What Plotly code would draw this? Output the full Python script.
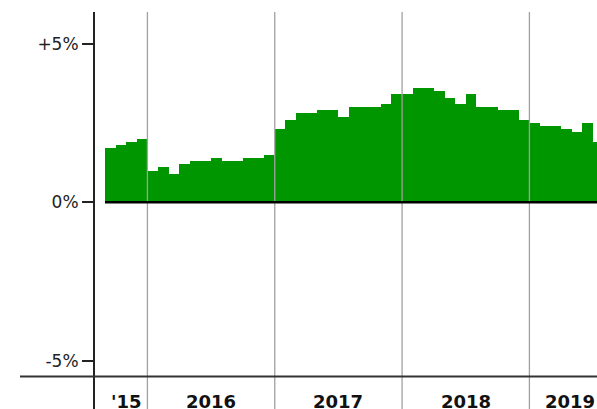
import plotly.graph_objects as go
import pandas as pd

# ---- data (percent, monthly) ----
vals_2015 = [1.7, 1.8, 1.9, 2.0]                                        # Sep-Dec
vals_2016 = [1.0, 1.1, 0.9, 1.2, 1.3, 1.3, 1.4, 1.3, 1.3, 1.4, 1.4, 1.5]
vals_2017 = [2.3, 2.6, 2.8, 2.8, 2.9, 2.9, 2.7, 3.0, 3.0, 3.0, 3.1, 3.4]
vals_2018 = [3.4, 3.6, 3.6, 3.5, 3.3, 3.1, 3.4, 3.0, 3.0, 2.9, 2.9, 2.6]
vals_2019 = [2.5, 2.4, 2.4, 2.3, 2.2, 2.5, 1.9]                          # Jan-Jul
year_labels = ["'15", "2016", "2017", "2018", "2019"]
ytick_vals = [-5, 0, 5]
ytick_text = ["-5%", "0%", "+5%"]

groups = [vals_2015, vals_2016, vals_2017, vals_2018, vals_2019]
values = [v for g in groups for v in g]
months = [str(p) for p in pd.period_range("2015-09", periods=len(values), freq="M")]
xs = list(range(len(values)))

# year boundaries (in bar-index units)
bounds = []
start = -0.5
for g in groups:
    bounds.append((start, start + len(g)))
    start += len(g)

FONT = "DejaVu Sans"
W, H = 597, 409
ML, MT = 95, 12
yr = [-6.51, 5.994]
xr = [-1.44, 45.87]

fig = go.Figure(go.Bar(
    x=xs, y=values, width=1, customdata=months,
    marker=dict(color="#009600", line=dict(width=0)),
    hovertemplate="%{customdata}: %{y:.1f}%<extra></extra>",
))

shapes = []
# year separator lines (above bars)
for b0, b1 in bounds[1:]:
    shapes.append(dict(type="line", xref="x", yref="paper", x0=b0, x1=b0, y0=0, y1=1,
                       line=dict(color="#a0a0a0", width=1.3), layer="above"))
# zero line
shapes.append(dict(type="line", xref="x", yref="y", x0=-0.5, x1=xr[1] + 2, y0=0, y1=0,
                   line=dict(color="#000000", width=2.5), layer="above"))
# bottom horizontal rule
yb = (-5.487 - yr[0]) / (yr[1] - yr[0])
shapes.append(dict(type="line", xref="paper", yref="paper", x0=-75 / (W - ML), x1=1, y0=yb, y1=yb,
                   line=dict(color="#333333", width=2), layer="above"))

annotations = []
for i, (lab, (b0, b1)) in enumerate(zip(year_labels, bounds)):
    if i == len(year_labels) - 1:
        annotations.append(dict(text=f"<b>{lab}</b>", xref="paper", yref="paper", x=1.0, y=0.019,
                                xanchor="right", yanchor="middle", showarrow=False,
                                font=dict(family=FONT, size=18, color="#111111")))
    else:
        annotations.append(dict(text=f"<b>{lab}</b>", xref="x", yref="paper", x=(b0 + b1) / 2, y=0.019,
                                xanchor="center", yanchor="middle", showarrow=False,
                                font=dict(family=FONT, size=18, color="#111111")))

fig.update_layout(
    width=W, height=H,
    margin=dict(l=ML, r=0, t=MT, b=0, pad=0),
    paper_bgcolor="white", plot_bgcolor="white",
    bargap=0, showlegend=False,
    shapes=shapes, annotations=annotations,
    font=dict(family=FONT, size=17, color="#222222"),
)
fig.update_xaxes(range=xr, showgrid=False, zeroline=False, showticklabels=False,
                 showline=False, ticks="", fixedrange=True)
fig.update_yaxes(range=yr, tickvals=ytick_vals, ticktext=ytick_text,
                 showgrid=False, zeroline=False, showline=True, linecolor="#222222", linewidth=2,
                 ticks="outside", ticklen=11, tickwidth=1.5, tickcolor="#222222",
                 tickfont=dict(family=FONT, size=17, color="#222222"), fixedrange=True)

fig.write_html("out.html", config={"displayModeBar": False},
               post_script="document.body.style.margin='0';document.body.style.overflow='hidden';")
